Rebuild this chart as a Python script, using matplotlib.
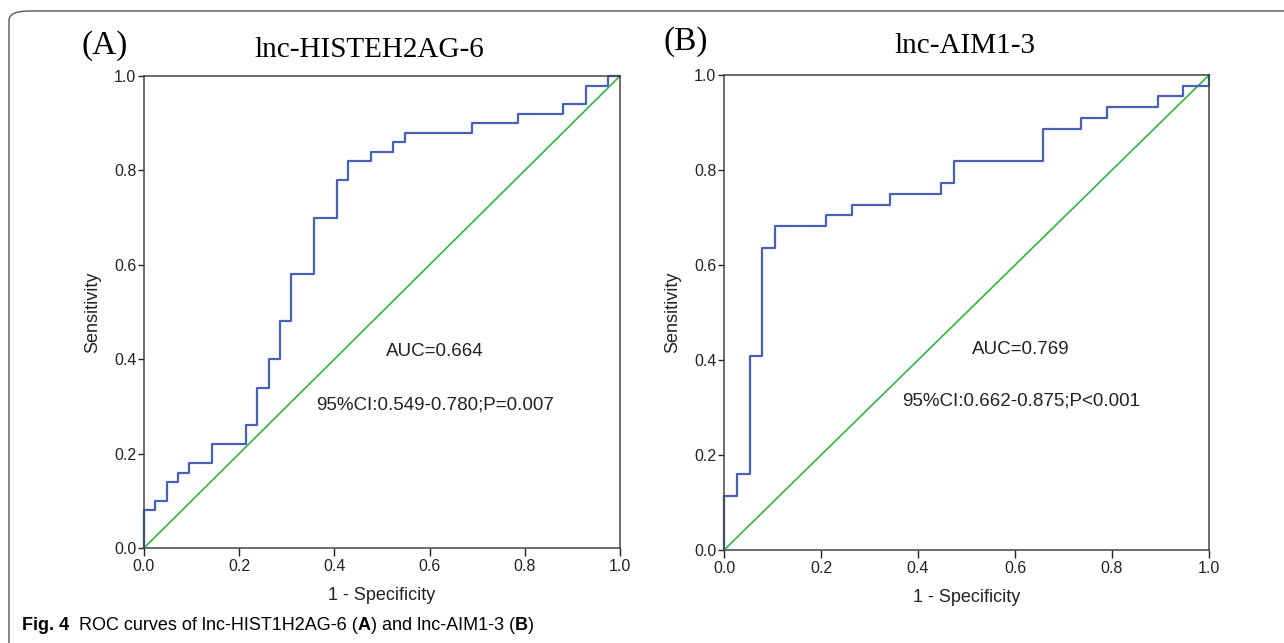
import matplotlib.pyplot as plt
from matplotlib.patches import FancyBboxPatch

# ROC curve A: corner points (1 - specificity, sensitivity)
fpr_a = [0.0, 0.0, 0.024, 0.048, 0.071, 0.095, 0.143, 0.214, 0.238, 0.262, 0.286,
         0.310, 0.357, 0.405, 0.429, 0.476, 0.524, 0.548, 0.690, 0.786, 0.881,
         0.929, 0.976, 1.0]
tpr_a = [0.0, 0.08, 0.10, 0.14, 0.16, 0.18, 0.22, 0.26, 0.34, 0.40, 0.48,
         0.58, 0.70, 0.78, 0.82, 0.84, 0.86, 0.88, 0.90, 0.92, 0.94,
         0.98, 1.0, 1.0]

# ROC curve B
fpr_b = [0.0, 0.0, 0.026, 0.053, 0.079, 0.105, 0.211, 0.263, 0.342, 0.447,
         0.474, 0.658, 0.737, 0.789, 0.895, 0.947, 1.0, 1.0]
tpr_b = [0.0, 0.114, 0.159, 0.409, 0.636, 0.682, 0.705, 0.727, 0.750, 0.773,
         0.818, 0.886, 0.909, 0.932, 0.955, 0.977, 0.977, 1.0]

ref_line = [0.0, 1.0]
ticks = [0.0, 0.2, 0.4, 0.6, 0.8, 1.0]
tick_labels = ["0.0", "0.2", "0.4", "0.6", "0.8", "1.0"]

panels = [
    {"rect": [0.1121, 0.1477, 0.3707, 0.734], "fpr": fpr_a, "tpr": tpr_a,
     "letter": "(A)", "title": "lnc-HISTEH2AG-6", "auc": "AUC=0.664",
     "ci": "95%CI:0.549-0.780;P=0.007", "letter_xy": (105, 46), "title_xy": (369, 50),
     "txt_x": 0.611, "auc_y": 0.417, "ci_y": 0.303},
    {"rect": [0.5639, 0.1446, 0.3777, 0.7387], "fpr": fpr_b, "tpr": tpr_b,
     "letter": "(B)", "title": "lnc-AIM1-3", "auc": "AUC=0.769",
     "ci": "95%CI:0.662-0.875;P<0.001", "letter_xy": (686, 42), "title_xy": (965, 46),
     "txt_x": 0.612, "auc_y": 0.423, "ci_y": 0.314},
]

W, H = 1284, 643
plt.rcParams["font.family"] = ["Liberation Sans", "DejaVu Sans"]
fig = plt.figure(figsize=(W / 100, H / 100), dpi=100)

# rounded frame around the figure, open to the right and bottom
frame = FancyBboxPatch((9 / W, -0.2), 1.5, 1.2 - 11 / H,
                       boxstyle="round,pad=0,rounding_size=0.015",
                       transform=fig.transFigure, fill=False,
                       edgecolor="#555555", linewidth=1.0)
fig.patches.append(frame)

blue = "#4761B9"
green = "#2DB83D"
serif = ["Liberation Serif", "DejaVu Serif"]

for p in panels:
    ax = fig.add_axes(p["rect"])
    ax.plot(ref_line, ref_line, color=green, linewidth=1.2, clip_on=False)
    ax.plot(p["fpr"], p["tpr"], drawstyle="steps-post", color=blue,
            linewidth=1.6, clip_on=False)
    ax.set_xlim(0, 1)
    ax.set_ylim(0, 1)
    ax.set_xticks(ticks)
    ax.set_xticklabels(tick_labels)
    ax.set_yticks(ticks)
    ax.set_yticklabels(tick_labels)
    ax.tick_params(axis="x", length=6, width=1.0, pad=2, labelsize=11.5, colors="#222222")
    ax.tick_params(axis="y", length=4.5, width=1.0, pad=1, labelsize=11.5, colors="#222222")
    for s in ax.spines.values():
        s.set_color("#444444")
        s.set_linewidth(1.1)
    ax.set_xlabel("1 - Specificity", fontsize=13, labelpad=9, color="#222222")
    ax.set_ylabel("Sensitivity", fontsize=13, labelpad=9, color="#222222")
    ax.text(p["txt_x"], p["auc_y"], p["auc"], fontsize=13.5, ha="center", va="center",
            color="#222222")
    ax.text(p["txt_x"], p["ci_y"], p["ci"], fontsize=13.5, ha="center", va="center",
            color="#222222")

    lx, ly = p["letter_xy"]
    fig.text(lx / W, 1 - ly / H, p["letter"], fontsize=24, ha="center", va="center",
             family=serif)
    tx, ty = p["title_xy"]
    fig.text(tx / W, 1 - ty / H, p["title"], fontsize=21, ha="center", va="center",
             family=serif)

# caption, pieces chained one after another
cap_size = 13
prev = fig.text(22 / W, 1 - 625 / H, "Fig. 4", fontsize=cap_size, fontweight="bold",
                va="center")
pieces = [("  ROC curves of lnc-HIST1H2AG-6 (", "normal"), ("A", "bold"),
          (") and lnc-AIM1-3 (", "normal"), ("B", "bold"), (")", "normal")]
for s, w in pieces:
    prev = fig.axes[0].annotate(s, xy=(1, 0.5), xycoords=prev, va="center", ha="left",
                                fontsize=cap_size, fontweight=w, annotation_clip=False)

fig.savefig("out.png", dpi=100)
